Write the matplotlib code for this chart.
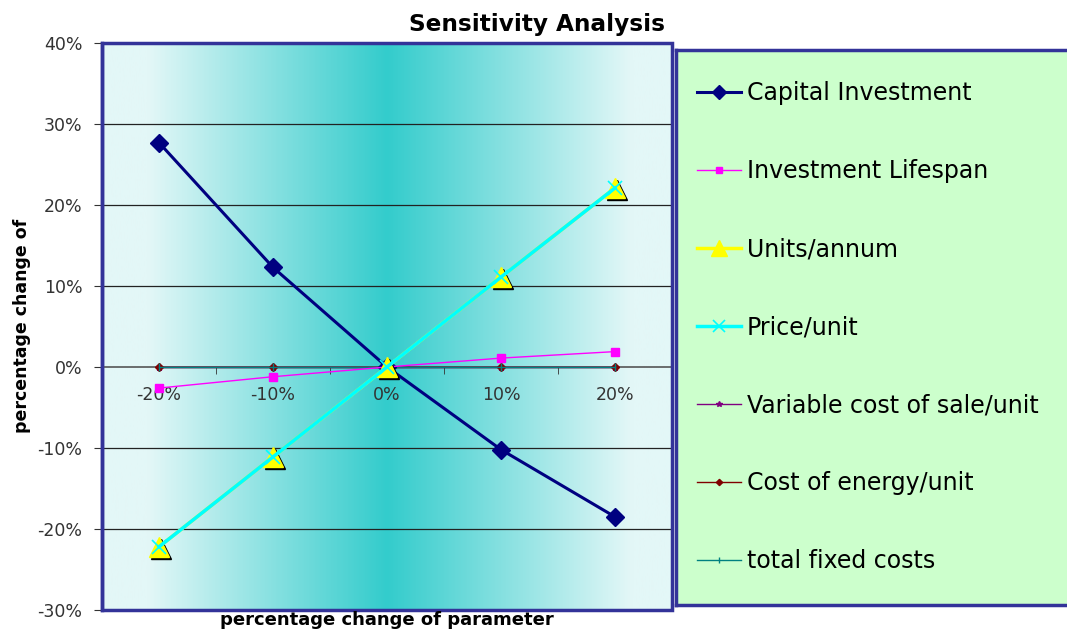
import numpy as np
import matplotlib
matplotlib.use("Agg")
import matplotlib.pyplot as plt
import matplotlib.transforms as mtransforms
from matplotlib.colors import LinearSegmentedColormap
from matplotlib.patches import Rectangle

plt.rcParams['font.family'] = ['DejaVu Sans']

categories = ["-20%", "-10%", "0%", "10%", "20%"]
capital_investment = [27.7, 12.3, 0.0, -10.2, -18.5]
investment_lifespan = [-2.6, -1.2, 0.0, 1.1, 1.9]
units_annum = [-22.2, -11.1, 0.0, 11.1, 22.1]
price_unit = [-22.2, -11.1, 0.0, 11.1, 22.1]
variable_cost = [0.0, 0.0, 0.0, 0.0, 0.0]
energy_cost = [0.0, 0.0, 0.0, 0.0, 0.0]
fixed_costs = [0.0, 0.0, 0.0, 0.0, 0.0]
y_ticks = [-30, -20, -10, 0, 10, 20, 30, 40]

W, H = 1067, 630
fig = plt.figure(figsize=(W / 100, H / 100), dpi=100)
ax = fig.add_axes([102 / W, 1 - 610 / H, 570 / W, 567 / H])

# gradient background
light = "#e3f7f7"
teal = "#33cccc"
cmap = LinearSegmentedColormap.from_list(
    "g", [(0.0, light), (0.08, light), (0.5, teal), (0.93, light), (1.0, light)])
grad = np.linspace(0, 1, 512).reshape(1, -1)
ax.imshow(grad, cmap=cmap, extent=[0, 1, 0, 1], transform=ax.transAxes,
          aspect='auto', zorder=0, interpolation='bicubic')

x = np.arange(len(categories))
ax.set_xlim(-0.5, len(categories) - 0.5)
ax.set_ylim(-30, 40)

for yv in y_ticks:
    if yv not in (-30, 40, 0):
        ax.axhline(yv, color='#222222', lw=0.9, zorder=1)

ax.plot(x, capital_investment, color='#000080', lw=2.2, marker='D', ms=9,
        label='Capital Investment', zorder=5)
ax.plot(x, investment_lifespan, color='#ff00ff', lw=1.0, marker='s', ms=5.5,
        label='Investment Lifespan', zorder=5)
shadow = mtransforms.offset_copy(ax.transData, fig=fig, x=1.5, y=-1.5, units='points')
ax.plot(x, units_annum, ls='none', marker='^', ms=14, color='black',
        transform=shadow, zorder=5)
ax.plot(x, units_annum, color='#ffff00', lw=2.5, marker='^', ms=14,
        mec='#ffff00', label='Units/annum', zorder=6)
ax.plot(x, price_unit, color='#00ffff', lw=2.5, marker='x', ms=10, mew=1.2,
        label='Price/unit', zorder=7)
ax.plot(x, variable_cost, color='#800080', lw=1.0, marker='*', ms=5,
        label='Variable cost of sale/unit', zorder=4)
ax.plot(x, energy_cost, color='#800000', lw=1.0, marker='D', ms=4,
        label='Cost of energy/unit', zorder=4)
ax.plot(x, fixed_costs, color='#008080', lw=1.0, marker='|', ms=6,
        label='total fixed costs', zorder=4)

# axes styling
ax.set_yticks(y_ticks)
ax.set_yticklabels([f"{v}%" for v in y_ticks])
ax.tick_params(axis='y', labelsize=12.5, length=6, pad=8, color='#333333',
               labelcolor='#333333')
ax.set_xticks(x)
ax.set_xticklabels(categories)
ax.set_xticks(np.arange(0.5, len(categories) - 1, 1), minor=True)
ax.tick_params(axis='x', which='major', length=0, pad=14, labelsize=12.5, labelcolor='#333333')
ax.tick_params(axis='x', which='minor', length=5, direction='out', color='#333333')
ax.spines['bottom'].set_position(('data', 0))
ax.spines['bottom'].set_color('#555555')
ax.spines['bottom'].set_linewidth(1.2)
for s in ['top', 'right']:
    ax.spines[s].set_visible(False)
ax.spines['left'].set_color('#333399')
ax.spines['left'].set_linewidth(2.5)
ax.add_patch(Rectangle((0, 0), 1, 1, transform=ax.transAxes, fill=False,
                       edgecolor='#333399', lw=2.5, zorder=10, clip_on=False))

# legend area
lax = fig.add_axes([676 / W, 1 - 605 / H, 400 / W, 555 / H])
lax.set_facecolor('#ccffcc')
lax.set_xticks([])
lax.set_yticks([])
for s in lax.spines.values():
    s.set_color('#333399')
    s.set_linewidth(2.5)
handles, labels = ax.get_legend_handles_labels()
lax.legend(handles, labels, loc='upper left', bbox_to_anchor=(0.0525, 0.944),
           frameon=False, fontsize=17, labelspacing=2.29, handlelength=1.85,
           handletextpad=0.25, borderpad=0, borderaxespad=0, markerscale=0.8)

fig.text(537 / W, 1 - 25 / H, "Sensitivity Analysis", ha='center', va='center',
         fontsize=16.7, fontweight='bold')
fig.text(387 / W, 1 - 620 / H, "percentage change of parameter", ha='center',
         va='center', fontsize=13, fontweight='bold')
fig.text(22 / W, 1 - 326 / H, "percentage change of", ha='center', va='center',
         rotation=90, fontsize=12.5, fontweight='bold')

fig.savefig("out.png", dpi=100)
